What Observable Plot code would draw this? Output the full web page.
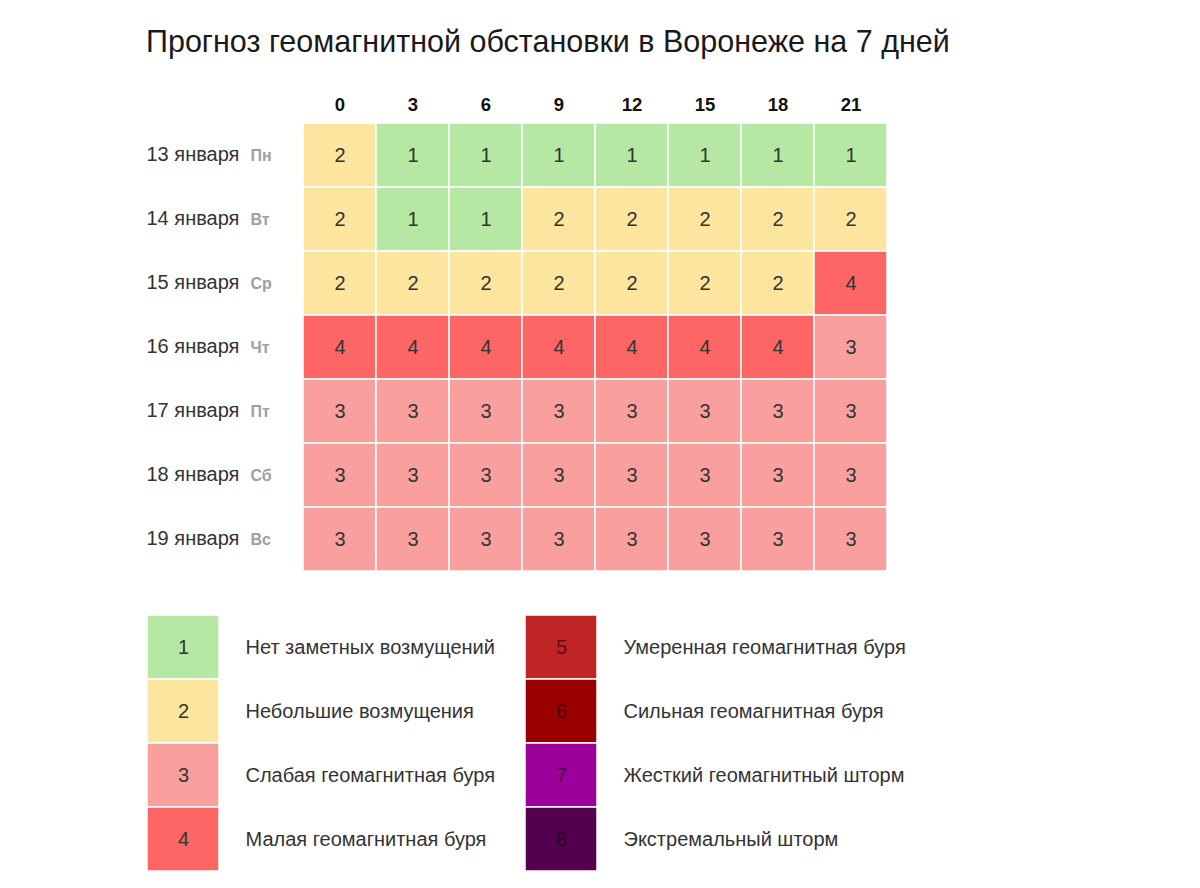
<!DOCTYPE html>
<html>
<head>
<meta charset="utf-8">
<script src="https://cdn.jsdelivr.net/npm/d3@7"></script>
<script src="https://cdn.jsdelivr.net/npm/@observablehq/plot@0.6"></script>
<style>
  body { margin: 0; background: #fff; font-family: "Liberation Sans", Arial, sans-serif; }
  #title { height: 70px; box-sizing: border-box; padding: 23px 0 0 146px; font-size: 30.5px; color: #1a1a1a; line-height: 36px; white-space: nowrap; }
  svg { display: block; }
</style>
</head>
<body>
<div id="title">Прогноз геомагнитной обстановки в Воронеже на 7 дней</div>
<div id="chart"></div>
<div id="legend"></div>
<script>
const hours = [0, 3, 6, 9, 12, 15, 18, 21];
const dates = ["13 января", "14 января", "15 января", "16 января", "17 января", "18 января", "19 января"];
const weekdays = ["Пн", "Вт", "Ср", "Чт", "Пт", "Сб", "Вс"];
const kp13 = [2, 1, 1, 1, 1, 1, 1, 1];
const kp14 = [2, 1, 1, 2, 2, 2, 2, 2];
const kp15 = [2, 2, 2, 2, 2, 2, 2, 4];
const kp16 = [4, 4, 4, 4, 4, 4, 4, 3];
const kp17 = [3, 3, 3, 3, 3, 3, 3, 3];
const kp18 = [3, 3, 3, 3, 3, 3, 3, 3];
const kp19 = [3, 3, 3, 3, 3, 3, 3, 3];
const levels = [1, 2, 3, 4, 5, 6, 7, 8];
const levelLabels = [
  "Нет заметных возмущений",
  "Небольшие возмущения",
  "Слабая геомагнитная буря",
  "Малая геомагнитная буря",
  "Умеренная геомагнитная буря",
  "Сильная геомагнитная буря",
  "Жесткий геомагнитный шторм",
  "Экстремальный шторм"
];

const palette = ["#b6e7a3", "#fce59e", "#f9a09f", "#fd6664", "#bf2525", "#9b0000", "#9b009b", "#540050"];
const font = '"Liberation Sans", Arial, sans-serif';

const rows = [kp13, kp14, kp15, kp16, kp17, kp18, kp19];
const cells = [];
rows.forEach((r, i) => r.forEach((v, j) => cells.push({date: dates[i], hour: String(hours[j]), kp: v})));
const dayRows = dates.map((d, i) => ({date: d, wd: weekdays[i]}));

const chart = Plot.plot({
  width: 1200,
  height: 545,
  marginLeft: 300,
  marginRight: 310,
  marginTop: 51,
  marginBottom: 42,
  style: {fontFamily: font, background: "white"},
  x: {type: "band", domain: hours.map(String), padding: 0, axis: null},
  y: {type: "band", domain: dates, padding: 0, axis: null},
  color: {type: "ordinal", domain: levels, range: palette},
  marks: [
    Plot.cell(cells, {x: "hour", y: "date", fill: "kp", stroke: "white", strokeWidth: 1.5}),
    Plot.text(cells, {x: "hour", y: "date", text: "kp", fontSize: 20, fill: "#333"}),
    Plot.axisX({anchor: "top", tickSize: 0, tickPadding: 11, fontSize: 18.5, fontWeight: "bold", fill: "#111", label: null}),
    Plot.text(dayRows, {y: "date", text: "date", frameAnchor: "left", textAnchor: "start", dx: -154, dy: -1, fontSize: 20, fill: "#333"}),
    Plot.text(dayRows, {y: "date", text: "wd", frameAnchor: "left", textAnchor: "start", dx: -50, fontSize: 16, fontWeight: "bold", fill: "#a0a0a0"})
  ]
});
document.getElementById("chart").appendChild(chart);

const legendItems = levels.map((lv, i) => ({kp: lv, label: levelLabels[i], col: String(Math.floor(i / 4)), row: String(i % 4)}));

const legend = Plot.plot({
  width: 1200,
  height: 260,
  marginLeft: 147,
  marginRight: 297,
  marginTop: 0,
  marginBottom: 4,
  style: {fontFamily: font, background: "white"},
  x: {type: "band", domain: ["0", "1"], padding: 0, axis: null},
  y: {type: "band", domain: ["0", "1", "2", "3"], padding: 0, axis: null},
  color: {type: "ordinal", domain: levels, range: palette},
  marks: [
    Plot.cell(legendItems, {x: "col", y: "row", fill: "kp", insetRight: 306, stroke: "white", strokeWidth: 1.5}),
    Plot.text(legendItems, {x: "col", y: "row", text: "kp", frameAnchor: "middle", textAnchor: "middle", dx: -153, fontSize: 20,
      fill: d => d.kp <= 4 ? "#333" : "rgba(0,0,0,0.55)"}),
    Plot.text(legendItems, {x: "col", y: "row", text: "label", textAnchor: "start", dx: -91, fontSize: 20, fill: "#333"})
  ]
});
document.getElementById("legend").appendChild(legend);
</script>
</body>
</html>
